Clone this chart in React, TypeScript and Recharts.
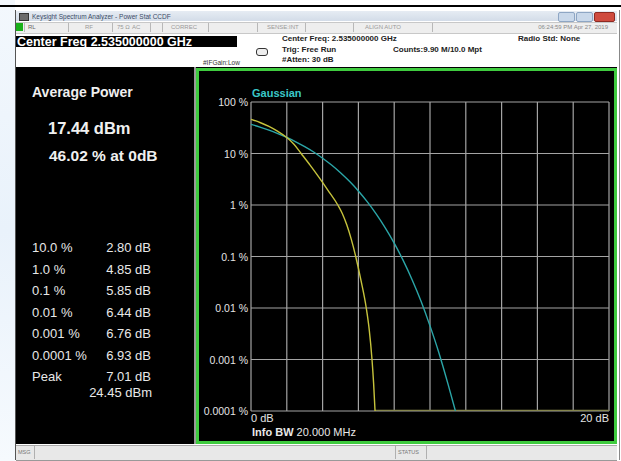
import React from 'react';
import { ComposedChart, Line, XAxis, YAxis, CartesianGrid } from 'recharts';

// ---- axis ticks ----
const DB_TICKS = [0, 2, 4, 6, 8, 10, 12, 14, 16, 18, 20];
const DB_LABEL_VALUES = [0, 20];
const DB_LABEL_TEXT = ['0 dB', '20 dB'];
const PCT_TICKS = [0.0001, 0.001, 0.01, 0.1, 1, 10, 100];
const PCT_LABELS = ['0.0001 %', '0.001 %', '0.01 %', '0.1 %', '1 %', '10 %', '100 %'];

// ---- measured CCDF trace (yellow) ----
const measuredDb = [0, 0.5, 1, 1.5, 2, 2.4, 2.8, 3.3, 3.8, 4.3, 4.85, 5.1, 5.35, 5.6, 5.85, 6.15, 6.44, 6.6, 6.76, 6.85, 6.93];
const measuredPct = [46, 40, 33.5, 26.8, 20.4, 15.1, 10, 5.94, 3.43, 1.93, 1.0, 0.686, 0.412, 0.217, 0.1, 0.0336, 0.01, 0.00394, 0.001, 0.000344, 0.0001];

// ---- Gaussian reference trace (cyan) ----
const gaussDb = [0, 0.5, 1, 1.5, 2, 2.5, 3, 3.5, 4, 4.5, 5, 5.5, 6, 6.5, 7, 7.5, 8, 8.5, 9, 9.5, 10, 10.5, 11, 11.42];
const gaussPct = [36.8, 32.6, 28.4, 24.3, 20.5, 16.9, 13.6, 10.7, 8.1, 5.97, 4.23, 2.88, 1.87, 1.15, 0.666, 0.361, 0.182, 0.084, 0.0355, 0.0135, 0.0045, 0.00134, 0.00034, 0.0001];

// ---- measured trace clipped at the floor ----
const floorDb = [6.93, 20];
const floorPct = [0.0001, 0.0001];

// ---- left panel statistics ----
const statLabels = ['10.0 %', '1.0 %', '0.1 %', '0.01 %', '0.001 %', '0.0001 %', 'Peak'];
const statValues = ['2.80 dB', '4.85 dB', '5.85 dB', '6.44 dB', '6.76 dB', '6.93 dB', '7.01 dB'];
const peakPower = '24.45 dBm';
const avgPower = '17.44 dBm';
const avgPct = '46.02 % at 0dB';

const measured = measuredDb.map((db, i) => ({ db, pct: measuredPct[i] }));
const gauss = gaussDb.map((db, i) => ({ db, pct: gaussPct[i] }));
const floor = floorDb.map((db, i) => ({ db, pct: floorPct[i] }));

const FONT = "'Liberation Sans', Arial, Helvetica, sans-serif";

type TxtProps = {
  x: number; y: number; size: number; bold?: boolean; color?: string;
  anchor?: 'start' | 'end'; children: React.ReactNode;
};
const Txt = ({ x, y, size, bold, color = '#111', anchor = 'start', children }: TxtProps) => (
  <div
    style={{
      position: 'absolute',
      left: x,
      top: y - size,
      height: size * 2,
      lineHeight: `${size * 2}px`,
      fontSize: size,
      fontWeight: bold ? 700 : 400,
      color,
      fontFamily: FONT,
      whiteSpace: 'nowrap',
      transform: anchor === 'end' ? 'translateX(-100%)' : undefined,
    }}
  >
    {children}
  </div>
);

const Box = (p: { x: number; y: number; w: number; h: number; style?: React.CSSProperties }) => (
  <div style={{ position: 'absolute', left: p.x, top: p.y, width: p.w, height: p.h, ...p.style }} />
);

const XTick = (props: any) => {
  const { x, y, payload } = props;
  const idx = DB_LABEL_VALUES.indexOf(payload.value);
  if (idx < 0) return <g />;
  return (
    <text x={x} y={y + 7} textAnchor={idx === 0 ? 'start' : 'end'} dominantBaseline="central"
      fill="#e4e4e4" fontSize={11} fontFamily={FONT}>
      {DB_LABEL_TEXT[idx]}
    </text>
  );
};

const YTick = (props: any) => {
  const { x, y, payload } = props;
  const idx = PCT_TICKS.indexOf(payload.value);
  return (
    <text x={x} y={y} textAnchor="end" dominantBaseline="central"
      fill="#e4e4e4" fontSize={10.5} fontFamily={FONT}>
      {idx >= 0 ? PCT_LABELS[idx] : ''}
    </text>
  );
};

const statusSeps = [24, 68, 112, 150, 162, 208, 257, 305, 353, 432];
const rowY = [248, 269.5, 291, 312.5, 334, 355.5, 377];

export default function App() {
  return (
    <div style={{ position: 'absolute', left: 0, top: 0, width: 621, height: 461, overflow: 'hidden', background: '#ffffff', fontFamily: FONT }}>
      {/* faint background */}
      <Box x={0} y={0} w={15} h={461} style={{ background: 'linear-gradient(180deg,#f3f8fd,#e9f2fb 50%,#f6fafe)' }} />
      {/* top black rule */}
      <Box x={0} y={5} w={621} h={2} style={{ background: '#000' }} />

      {/* window */}
      <Box x={15} y={10} w={603} h={450} style={{ background: '#fff', borderLeft: '1px solid #555', borderRight: '1px solid #888' }} />
      {/* title bar */}
      <Box x={16} y={11} w={601} h={10} style={{ background: 'linear-gradient(180deg,#e6ecf3,#d3dce8)' }} />
      <Box x={19} y={13} w={8} h={6} style={{ background: '#6b6b6b', border: '1px solid #333' }} />
      <Txt x={32} y={16} size={6.5} color="#3a4a66">Keysight Spectrum Analyzer - Power Stat CCDF</Txt>
      <Box x={558} y={12} w={15} h={8} style={{ background: '#c9d8ea', border: '1px solid #8ea6c4', borderRadius: 2 }} />
      <Box x={576} y={12} w={15} h={8} style={{ background: '#c9d8ea', border: '1px solid #8ea6c4', borderRadius: 2 }} />
      <Box x={594} y={12} w={19} h={8} style={{ background: '#cf4b3f', border: '1px solid #8e2a22', borderRadius: 2 }} />

      {/* status row */}
      <Box x={16} y={22} w={601} h={10} style={{ background: '#eeeeee', borderTop: '1px solid #c8c8c8', borderBottom: '1px solid #c8c8c8' }} />
      <Box x={16} y={23} w={7} h={8} style={{ background: '#19b019' }} />
      {statusSeps.map((sx) => (
        <Box key={sx} x={sx} y={23} w={1} h={9} style={{ background: '#b8b8b8' }} />
      ))}
      <Txt x={28} y={27} size={6} color="#666">RL</Txt>
      <Txt x={85} y={27} size={6} color="#999">RF</Txt>
      <Txt x={117} y={27} size={6} color="#999">75 Ω</Txt>
      <Txt x={132} y={27} size={6} color="#999">AC</Txt>
      <Txt x={171} y={27} size={6} color="#999">CORREC</Txt>
      <Txt x={267} y={27} size={6} color="#999">SENSE:INT</Txt>
      <Txt x={365} y={27} size={6} color="#999">ALIGN AUTO</Txt>
      <Txt x={608} y={27} size={6} color="#888" anchor="end">06:24:59 PM Apr 27, 2019</Txt>

      {/* center freq bar */}
      <Box x={16} y={36} w={221} h={11} style={{ background: '#000' }} />
      <Txt x={17} y={42} size={12.5} bold color="#ffffff">Center Freq 2.535000000 GHz</Txt>

      <Txt x={282} y={39} size={8} bold color="#222">Center Freq: 2.535000000 GHz</Txt>
      <Txt x={282} y={50} size={8} bold color="#222">Trig: Free Run</Txt>
      <Txt x={282} y={60} size={8} bold color="#222">#Atten: 30 dB</Txt>
      <Txt x={393} y={50} size={8} bold color="#222">Counts:9.90 M/10.0 Mpt</Txt>
      <Txt x={518} y={39} size={8} bold color="#222">Radio Std: None</Txt>
      <Txt x={203} y={62} size={6.5} color="#333">#IFGain:Low</Txt>
      <Box x={256} y={48} w={10} h={6} style={{ border: '1px solid #333', borderRadius: 3, background: '#eee' }} />

      {/* main display */}
      <Box x={16} y={67} w={601} h={377} style={{ background: '#000' }} />
      <Box x={194} y={67} w={2} h={377} style={{ background: '#9a9a9a' }} />

      {/* left panel */}
      <Txt x={32} y={92} size={14} bold color="#f0f0f0">Average Power</Txt>
      <Txt x={48} y={128} size={16.5} bold color="#f0f0f0">{avgPower}</Txt>
      <Txt x={49} y={155} size={15.5} bold color="#f0f0f0">{avgPct}</Txt>
      {statLabels.map((l, i) => (
        <Txt key={l} x={32} y={rowY[i]} size={13} color="#e8e8e8">{l}</Txt>
      ))}
      {statValues.map((v, i) => (
        <Txt key={v + i} x={151} y={rowY[i]} size={13} color="#e8e8e8" anchor="end">{v}</Txt>
      ))}
      <Txt x={152} y={393} size={13} color="#e8e8e8" anchor="end">{peakPower}</Txt>

      {/* green graticule frame */}
      <Box x={196} y={68} w={421} h={376} style={{ border: '3px solid #3fcb3f', boxSizing: 'border-box', background: '#000' }} />

      <div style={{ position: 'absolute', left: 199, top: 71 }}>
        <ComposedChart width={414} height={370} margin={{ top: 31, right: 4, bottom: 0, left: 0 }}>
          <CartesianGrid stroke="#a4a4a4" strokeWidth={1.2} />
          <XAxis
            type="number"
            dataKey="db"
            domain={[0, 20]}
            ticks={DB_TICKS}
            allowDataOverflow
            height={30}
            tickSize={0}
            tickMargin={0}
            axisLine={false}
            tickLine={false}
            tick={<XTick />}
            interval={0}
          />
          <YAxis
            type="number"
            dataKey="pct"
            scale="log"
            domain={[0.0001, 100]}
            ticks={PCT_TICKS}
            allowDataOverflow
            width={52}
            tickSize={0}
            tickMargin={3}
            axisLine={false}
            tickLine={false}
            tick={<YTick />}
            interval={0}
          />
          <Line data={floor} dataKey="pct" type="linear" stroke="#86864e" strokeWidth={2.5} dot={false} isAnimationActive={false} />
          <Line data={gauss} dataKey="pct" type="monotone" stroke="#2ba6a8" strokeWidth={1.4} dot={false} isAnimationActive={false} />
          <Line data={measured} dataKey="pct" type="monotone" stroke="#c6c33c" strokeWidth={1.4} dot={false} isAnimationActive={false} />
        </ComposedChart>
      </div>

      <Txt x={252} y={93} size={11} bold color="#3ac8c8">Gaussian</Txt>
      <Txt x={252} y={432} size={11} color="#e8e8e8"><b>Info BW</b> 20.000 MHz</Txt>

      {/* bottom status bar */}
      <Box x={16} y={445} w={601} h={14} style={{ background: '#e8e8e8', borderTop: '1px solid #aaa', borderBottom: '1px solid #999' }} />
      <Box x={34} y={446} w={1} h={13} style={{ background: '#b0b0b0' }} />
      <Box x={395} y={446} w={1} h={13} style={{ background: '#b0b0b0' }} />
      <Box x={426} y={446} w={1} h={13} style={{ background: '#b0b0b0' }} />
      <Txt x={18} y={452} size={5.5} color="#777">MSG</Txt>
      <Txt x={398} y={452} size={5.5} color="#777">STATUS</Txt>
    </div>
  );
}
